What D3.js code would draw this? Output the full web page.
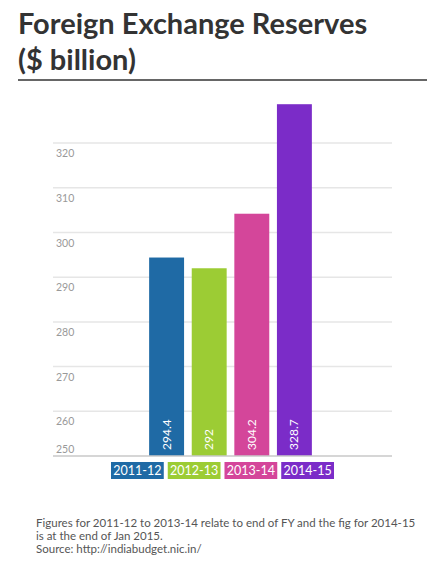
<!DOCTYPE html>
<html lang="en">
<head>
<meta charset="UTF-8">
<title>Foreign Exchange Reserves</title>
<script src="https://d3js.org/d3.v7.min.js"></script>
<style>
  body { margin: 0; background: #fff; }
  svg { display: block; }
  text { font-family: 'Lato', 'Open Sans', sans-serif; }
</style>
</head>
<body>
<svg width="445" height="574"></svg>
<script>
// data
const years = ['2011-12', '2012-13', '2013-14', '2014-15'];
const reserves = [294.4, 292, 304.2, 328.7];
const valueLabels = ['294.4', '292', '304.2', '328.7'];
const barColors = ['#1f6aa5', '#9ccc34', '#d4469a', '#7b2cc8'];
const yTicks = [250, 260, 270, 280, 290, 300, 310, 320];
const notes = [
  'Figures for 2011-12 to 2013-14 relate to end of FY and the fig for 2014-15',
  'is at the end of Jan 2015.',
  'Source: http://indiabudget.nic.in/'
];

const svg = d3.select('svg');

// title + rule under it
svg.append('text')
  .attr('x', 18).attr('y', 34)
  .attr('font-size', 29).attr('font-weight', 700).attr('fill', '#333')
  .text('Foreign Exchange Reserves');
svg.append('text')
  .attr('x', 18).attr('y', 70)
  .attr('font-size', 29).attr('font-weight', 700).attr('fill', '#333')
  .text('($ billion)');
svg.append('line')
  .attr('x1', 18).attr('x2', 427).attr('y1', 80).attr('y2', 80)
  .attr('stroke', '#333').attr('stroke-width', 1.5);

const y = d3.scaleLinear().domain([250, 330]).range([456, 98.4]);
const x = d3.scaleBand().domain(years).range([145.3, 315.7])
  .paddingInner(0.18).paddingOuter(0.09);
const xBox = d3.scaleBand().domain(years).range([111, 334]).paddingInner(0.07);

// gridlines
svg.append('g').selectAll('line')
  .data(yTicks.filter(d => d > 250))
  .enter().append('line')
  .attr('x1', 53).attr('x2', 392)
  .attr('y1', d => y(d)).attr('y2', d => y(d))
  .attr('stroke', '#e6e6e6').attr('stroke-width', 1.5);

svg.append('g').selectAll('text')
  .data(yTicks)
  .enter().append('text')
  .attr('x', 56)
  .attr('y', d => d === 250 ? y(d) - 3 : y(d) + 14)
  .attr('font-size', 10.5).attr('fill', '#999')
  .text(d => d);

// bars
const bars = svg.append('g').selectAll('g')
  .data(years)
  .enter().append('g');

bars.append('rect')
  .attr('x', d => x(d))
  .attr('width', x.bandwidth())
  .attr('y', (d, i) => y(reserves[i]))
  .attr('height', (d, i) => y(250) - y(reserves[i]))
  .attr('fill', (d, i) => barColors[i]);

bars.append('text')
  .attr('transform', d => `translate(${x(d) + x.bandwidth() / 2 + 4},${y(250) - 6}) rotate(-90)`)
  .attr('font-size', 12).attr('fill', '#fff')
  .text((d, i) => valueLabels[i]);

// baseline
svg.append('line')
  .attr('x1', 53).attr('x2', 392).attr('y1', y(250)).attr('y2', y(250))
  .attr('stroke', '#c8c8c8').attr('stroke-width', 1.5);

// category boxes under the chart
const boxes = svg.append('g').selectAll('g')
  .data(years)
  .enter().append('g');

boxes.append('rect')
  .attr('x', d => xBox(d)).attr('y', 462)
  .attr('width', xBox.bandwidth()).attr('height', 17)
  .attr('fill', (d, i) => barColors[i]);

boxes.append('text')
  .attr('x', d => xBox(d) + xBox.bandwidth() / 2).attr('y', 475)
  .attr('text-anchor', 'middle')
  .attr('font-size', 12.5).attr('fill', '#fff')
  .text(d => d);

// footnote
svg.append('g').selectAll('text')
  .data(notes)
  .enter().append('text')
  .attr('x', 36)
  .attr('y', (d, i) => 527 + i * 13)
  .attr('font-size', 11.5).attr('fill', '#555')
  .text(d => d);
</script>
</body>
</html>
